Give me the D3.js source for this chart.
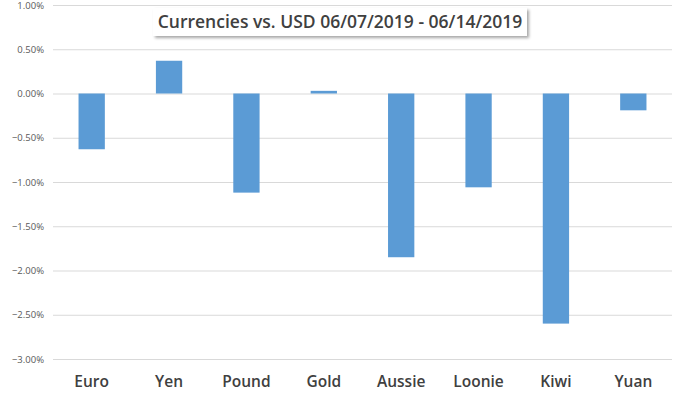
<!DOCTYPE html>
<html><head><meta charset="utf-8">
<script src="https://cdn.jsdelivr.net/npm/d3@7"></script>
<style>body{margin:0;background:#fff;}svg{display:block;}</style>
</head><body>
<svg id="c" width="680" height="393"></svg>
<script>
const categories = ["Euro","Yen","Pound","Gold","Aussie","Loonie","Kiwi","Yuan"];
const values = [-0.63, 0.37, -1.12, 0.03, -1.85, -1.06, -2.60, -0.19];
const yTicks = [1.0, 0.5, 0.0, -0.5, -1.0, -1.5, -2.0, -2.5, -3.0];
const title = "Currencies vs. USD 06/07/2019 - 06/14/2019";

const svg = d3.select("#c");
const L = 53, R = 672, T = 5, B = 359;
const x = d3.scaleBand().domain(categories).range([L, R]).paddingInner(0.66).paddingOuter(0.33);
const y = d3.scaleLinear().domain([-3, 1]).range([B, T]);

const grid = svg.append("g");
yTicks.forEach(t => {
  grid.append("line").attr("x1", L).attr("x2", R).attr("y1", y(t)+0.5).attr("y2", y(t)+0.5)
    .attr("stroke", "#d9d9d9").attr("stroke-width", 1);
});
const yAxis = d3.axisLeft(y).tickValues(yTicks).tickFormat(d => d3.format(".2f")(d) + "%").tickSize(0).tickPadding(0);
const ya = svg.append("g").attr("transform", `translate(${44},0)`).call(yAxis);
ya.select(".domain").remove();
ya.selectAll("text").attr("font-family", "Open Sans, sans-serif").attr("font-size", 9.5).attr("fill", "#595959");

svg.append("g").selectAll("rect").data(values).join("rect")
  .attr("x", (d, i) => x(categories[i]))
  .attr("width", x.bandwidth())
  .attr("y", d => y(Math.max(0, d)))
  .attr("height", d => Math.abs(y(d) - y(0)))
  .attr("fill", "#5b9bd5");

const xa = svg.append("g").attr("transform", `translate(0,${B})`).call(d3.axisBottom(x).tickSize(0).tickPadding(17));
xa.select(".domain").remove();
xa.selectAll("text").attr("font-family", "Open Sans, sans-serif").attr("font-size", 15.5).attr("font-weight", 600).attr("fill", "#404040");

const defs = svg.append("defs");
const f = defs.append("filter").attr("id", "sh").attr("x", "-10%").attr("y", "-30%").attr("width", "120%").attr("height", "180%");
f.append("feDropShadow").attr("dx", 2).attr("dy", 2).attr("stdDeviation", 1.5).attr("flood-color", "#000").attr("flood-opacity", 0.35);
svg.append("rect").attr("x", 153).attr("y", 8).attr("width", 374).attr("height", 28).attr("fill", "#fff").attr("filter", "url(#sh)");
svg.append("text").attr("x", 340).attr("y", 28).attr("text-anchor", "middle")
  .attr("font-family", "Open Sans, sans-serif").attr("font-size", 17.5).attr("font-weight", 600).attr("fill", "#404040")
  .text(title);
</script>
</body></html>
